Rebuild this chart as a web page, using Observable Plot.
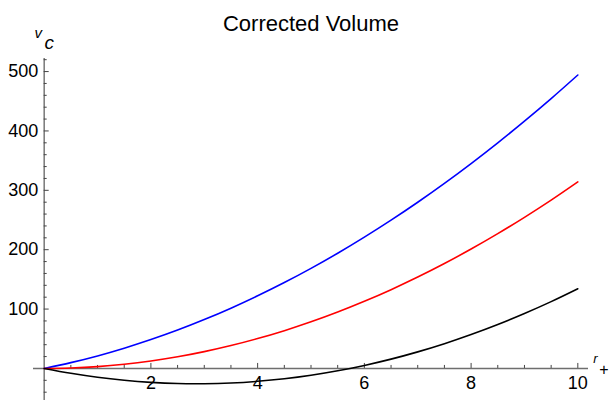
<!DOCTYPE html>
<html>
<head>
<meta charset="utf-8">
<script src="https://cdn.jsdelivr.net/npm/d3@7"></script>
<script src="https://cdn.jsdelivr.net/npm/@observablehq/plot@0.6"></script>
<style>
  html, body { margin: 0; padding: 0; background: #fff; }
  #chart svg { display: block; }
</style>
</head>
<body>
<div id="chart"></div>
<script>
// r+ values
const rValues = [0, 0.5, 1, 1.5, 2, 2.5, 3, 3.5, 4, 4.5, 5, 5.5, 6, 6.5, 7, 7.5, 8, 8.5, 9, 9.5, 10];
// upper (blue) curve
const blueValues = [0, 9.8, 21.1, 34.1, 48.6, 64.6, 82.3, 101.5, 122.3, 144.6, 168.5, 194.0, 221.1, 249.7, 279.9, 311.7, 345.1, 380.0, 416.5, 454.5, 494.2];
// middle (red) curve
const redValues = [0, 0.8, 3.1, 7.1, 12.6, 19.6, 28.3, 38.5, 50.3, 63.6, 78.5, 95.0, 113.1, 132.7, 153.9, 176.7, 201.1, 227.0, 254.5, 283.5, 314.2];
// lower (black) curve
const blackValues = [0, -8.2, -14.9, -19.9, -23.4, -25.4, -25.7, -24.5, -21.7, -17.4, -11.5, -4.0, 5.1, 15.7, 27.9, 41.7, 57.1, 74.0, 92.5, 112.5, 134.2];

const xMajorTicks = [2, 4, 6, 8, 10];
const xMinorTicks = [0.5, 1, 1.5, 2.5, 3, 3.5, 4.5, 5, 5.5, 6.5, 7, 7.5, 8.5, 9, 9.5];
const yMajorTicks = [100, 200, 300, 400, 500];
const yMinorTicks = [-40, -20, 20, 40, 60, 80, 120, 140, 160, 180, 220, 240, 260, 280, 320, 340, 360, 380, 420, 440, 460, 480, 520];

const titleText = "Corrected Volume";

const series = [
  {name: "blue", color: "#0000ff", values: blueValues},
  {name: "red", color: "#ff0000", values: redValues},
  {name: "black", color: "#000000", values: blackValues}
];
const table = series.flatMap(s => rValues.map((r, i) => ({r, v: s.values[i], s: s.name})));

const xDomain = [-0.2, 10.2];
const yDomain = [-54, 522];
const W = 609, H = 400, mL = 33, mR = 21, mT = 58, mB = 0;
const pxX = (xDomain[1] - xDomain[0]) / (W - mL - mR);
const pxY = (yDomain[1] - yDomain[0]) / (H - mT - mB);

const font = "'Liberation Sans', Arial, sans-serif";
const axisColor = "#6e6e6e";

const chart = Plot.plot({
  width: W, height: H,
  marginLeft: mL, marginRight: mR, marginTop: mT, marginBottom: mB,
  style: {fontFamily: font, background: "white", overflow: "visible"},
  x: {domain: xDomain, axis: null},
  y: {domain: yDomain, axis: null},
  color: {domain: series.map(s => s.name), range: series.map(s => s.color)},
  marks: [
    // axes lines
    Plot.ruleY([0], {x1: xDomain[0], x2: xDomain[1], stroke: axisColor, strokeWidth: 1.4}),
    Plot.ruleX([0], {y1: yDomain[0], y2: yDomain[1], stroke: axisColor, strokeWidth: 1.4}),
    // x ticks (inward, upward)
    Plot.ruleX(xMajorTicks, {y1: 0, y2: 5 * pxY, stroke: "#444", strokeWidth: 1}),
    Plot.ruleX(xMinorTicks, {y1: 0, y2: 3 * pxY, stroke: "#444", strokeWidth: 1}),
    // y ticks (inward, rightward)
    Plot.ruleY(yMajorTicks, {x1: 0, x2: 5 * pxX, stroke: "#444", strokeWidth: 1}),
    Plot.ruleY(yMinorTicks, {x1: 0, x2: 3 * pxX, stroke: "#444", strokeWidth: 1}),
    // curves
    Plot.line(table, {x: "r", y: "v", z: "s", stroke: "s", strokeWidth: 1.6, curve: "catmull-rom"}),
    // tick labels
    Plot.text(xMajorTicks, {x: d => d, y: 0, dy: 15, text: d => String(d), fontSize: 18, fill: "#000"}),
    Plot.text(yMajorTicks, {x: 0, y: d => d, dx: -6, text: d => String(d), textAnchor: "end", fontSize: 18, fill: "#000"}),
    // title
    Plot.text([titleText], {frameAnchor: "top", dy: -43, fontSize: 22, fill: "#000"}),
    // axis labels
    Plot.text(["v"], {x: 0, y: yDomain[1], dx: -6, dy: -25, fontSize: 15, fontStyle: "italic", fill: "#000"}),
    Plot.text(["c"], {x: 0, y: yDomain[1], dx: 5, dy: -16, fontSize: 19, fontStyle: "italic", fill: "#000"}),
    Plot.text(["r"], {x: xDomain[1], y: 0, dx: 7, dy: -10, fontSize: 13, fontStyle: "italic", fill: "#000"}),
    Plot.text(["+"], {x: xDomain[1], y: 0, dx: 20, dy: 1, fontSize: 16, textAnchor: "end", fill: "#000"})
  ]
});
document.getElementById("chart").appendChild(chart);
</script>
</body>
</html>
